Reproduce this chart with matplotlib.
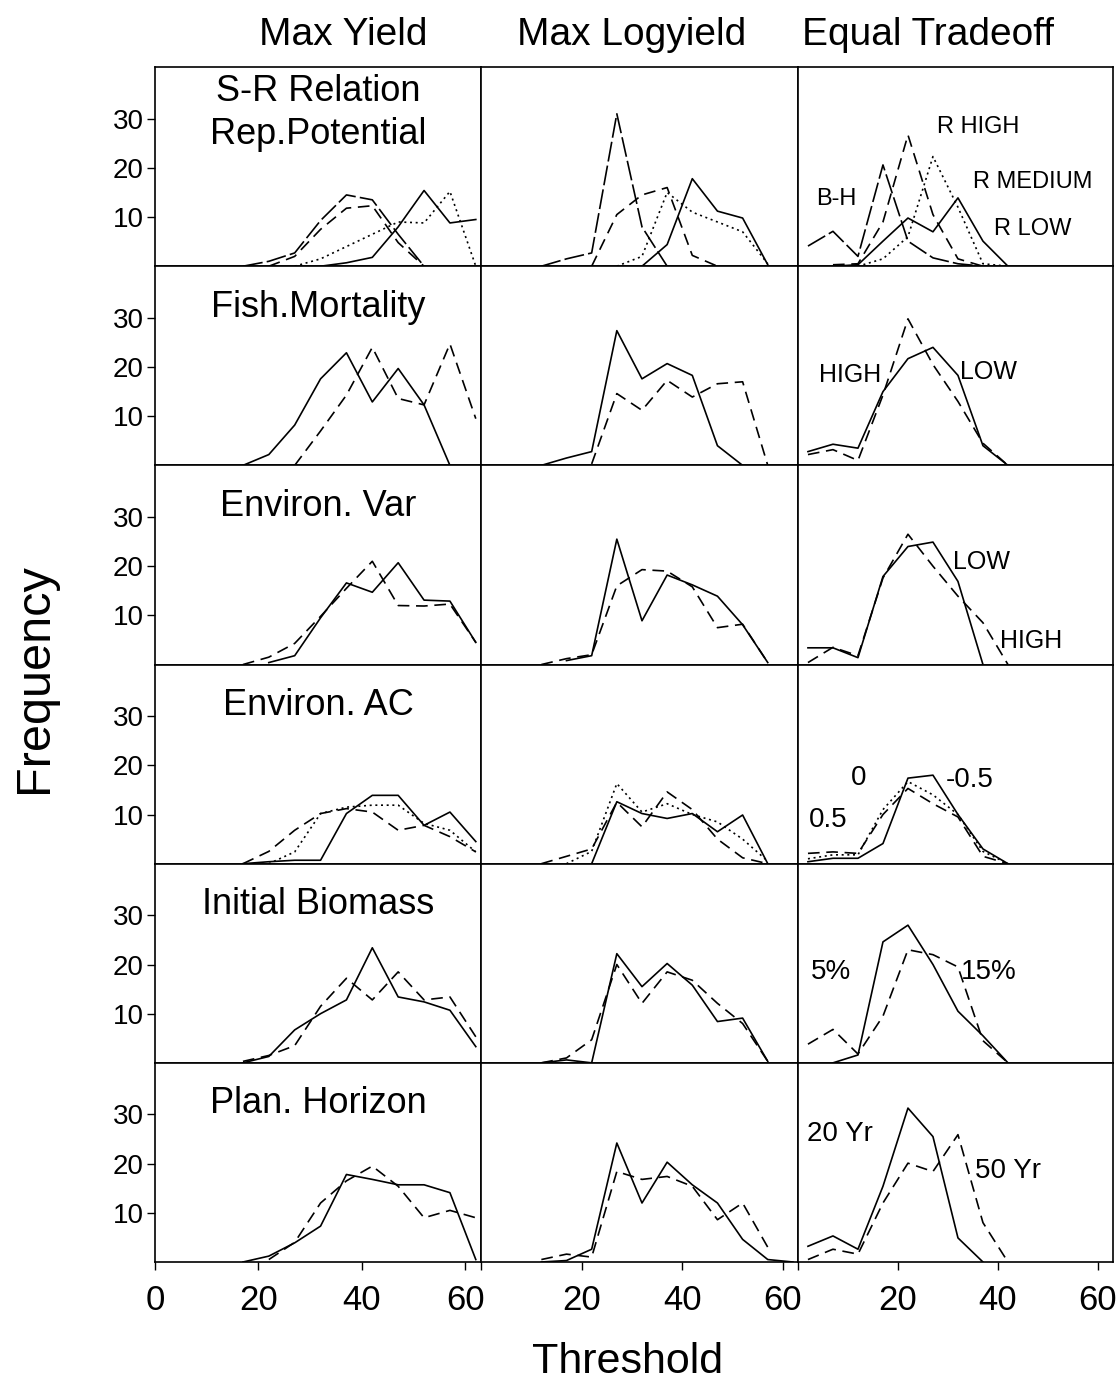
import numpy as np
import matplotlib.pyplot as plt

nan = np.nan

thresholds = [2, 7, 12, 17, 22, 27, 32, 37, 42, 47, 52, 57, 62]

col_titles = ['Max Yield', 'Max Logyield', 'Equal Tradeoff']
row_titles = ['S-R Relation\nRep.Potential', 'Fish.Mortality', 'Environ. Var',
              'Environ. AC', 'Initial Biomass', 'Plan. Horizon']

# S-R relation / reproductive potential
sr_yield = {
    'B-H':      [nan, nan, nan, 0, 1, 2.7, 9.3, 14.5, 13.5, 6.5, 0, nan, nan],
    'R HIGH':   [nan, nan, nan, nan, 0, 2, 7.5, 11.8, 12.3, 4.8, 0, nan, nan],
    'R MEDIUM': [nan, nan, nan, nan, nan, 0, 1.5, 4, 6.5, 9, 8.8, 15.2, 0],
    'R LOW':    [nan, nan, nan, nan, nan, nan, 0, 0.7, 1.8, 8, 15.4, 8.8, 9.5],
}
sr_logyield = {
    'B-H':      [nan, nan, 0, 1.5, 2.7, 31, 8, 0, nan, nan, nan, nan, nan],
    'R HIGH':   [nan, nan, nan, nan, 0, 10.5, 14.5, 16, 2.2, 0, nan, nan, nan],
    'R MEDIUM': [nan, nan, nan, nan, nan, 0, 2, 15, 11, 9, 7, 0.5, nan],
    'R LOW':    [nan, nan, nan, nan, nan, nan, 0, 4.4, 17.8, 11.2, 9.8, 0.3, nan],
}
sr_tradeoff = {
    'B-H':      [4.1, 7.1, 2, 20.6, 5.1, 1.7, 0.5, 0, nan, nan, nan, nan, nan],
    'R HIGH':   [nan, 0.3, 0.5, 9, 26.7, 10.5, 1.5, 0, nan, nan, nan, nan, nan],
    'R MEDIUM': [nan, nan, 0, 1.5, 6, 22.3, 12, 0.5, 0, nan, nan, nan, nan],
    'R LOW':    [nan, 0, 0.3, 5.1, 9.8, 7, 13.9, 5.1, 0, nan, nan, nan, nan],
}

# fishing mortality
fm_yield = {
    'LOW':  [nan, nan, nan, 0, 2.2, 8.2, 17.6, 22.9, 12.9, 19.7, 12.3, 0, nan],
    'HIGH': [nan, nan, nan, nan, nan, 0, 7, 14.3, 24, 13.6, 12.3, 24.7, 9.5],
}
fm_logyield = {
    'LOW':  [nan, nan, 0, 1.5, 2.8, 27.4, 17.6, 20.7, 18.3, 4, 0, nan, nan],
    'HIGH': [nan, nan, nan, nan, 0.3, 14.6, 11.2, 17.3, 13.9, 16.6, 17, 0, nan],
}
fm_tradeoff = {
    'LOW':  [2.8, 4.3, 3.5, 15, 21.7, 24, 18.3, 4, 0, nan, nan, nan, nan],
    'HIGH': [2.2, 3.2, 1, 14.3, 29.8, 20.5, 13, 4.5, 0, nan, nan, nan, nan],
}

# environmental variability
ev_yield = {
    'LOW':  [nan, nan, nan, nan, 0.4, 1.8, 9.5, 16.6, 14.7, 20.7, 13.1, 12.9, 4.5],
    'HIGH': [nan, nan, nan, 0, 1.5, 4.3, 9.8, 15.5, 21, 12, 11.9, 12.3, 4.5],
}
ev_logyield = {
    'LOW':  [nan, nan, nan, 0.8, 1.8, 25.5, 8.9, 18.2, 16.2, 13.9, 8.1, 0.4, nan],
    'HIGH': [nan, nan, 0, 1.2, 2, 16, 19.3, 19, 15.8, 7.5, 8.2, 0.4, nan],
}
ev_tradeoff = {
    'LOW':  [3.4, 3.4, 1.4, 17.9, 24, 24.9, 16.9, 0, nan, nan, nan, nan, nan],
    'HIGH': [0.4, 3.5, 1.8, 17.6, 26.5, 20, 13.9, 8.5, 0, nan, nan, nan, nan],
}

# environmental autocorrelation
ac_yield = {
    '-0.5': [nan, nan, nan, 0, 0.4, 0.7, 0.7, 10.2, 13.9, 13.9, 7.8, 10.5, 4.5],
    '0':    [nan, nan, nan, nan, 0, 2.4, 10.2, 11.5, 11.9, 11.9, 8.2, 6.8, 2.4],
    '0.5':  [nan, nan, nan, 0, 2.5, 6.8, 10.2, 11.2, 10.5, 6.8, 7.8, 5.5, 2.4],
}
ac_logyield = {
    '-0.5': [nan, nan, nan, nan, 0, 12.6, 10.2, 9.2, 10.2, 6.5, 9.9, 0, nan],
    '0':    [nan, nan, nan, 0, 2.5, 16.3, 10.5, 12.2, 10, 8.5, 5, 0.5, nan],
    '0.5':  [nan, nan, 0, 1.5, 3, 12.5, 7.5, 14.6, 11, 5, 1.2, 0, nan],
}
ac_tradeoff = {
    '-0.5': [0.4, 1.1, 1.1, 4.1, 17.4, 18, 10, 3, 0, nan, nan, nan, nan],
    '0':    [1, 1.8, 1.8, 11, 16.7, 14, 10, 2.5, 0, nan, nan, nan, nan],
    '0.5':  [2.1, 2.4, 2.1, 10, 15.3, 12.2, 9.5, 1.5, 0, nan, nan, nan, nan],
}

# initial biomass
ib_yield = {
    '5%':  [nan, nan, nan, 0, 1.3, 6.7, 10, 12.8, 23.4, 13.4, 12.4, 10.7, 3.3],
    '15%': [nan, nan, nan, 0.3, 1.5, 3.5, 11.5, 17.2, 12.8, 18.5, 12.8, 13.4, 5.3],
}
ib_logyield = {
    '5%':  [nan, nan, 0, 0.6, 0, 22.2, 15.5, 20.2, 15.8, 8.4, 9.1, 0.3, nan],
    '15%': [nan, nan, 0, 1, 4.7, 20, 12.1, 18.5, 16.8, 12.1, 8, 0.3, nan],
}
ib_tradeoff = {
    '5%':  [nan, 0, 1.6, 24.6, 28, 20, 10.5, 5.5, 0, nan, nan, nan, nan],
    '15%': [3.8, 6.8, 1.8, 9.5, 23, 22, 19.5, 4.5, 0, nan, nan, nan, nan],
}

# planning horizon
ph_yield = {
    '20 Yr': [nan, nan, nan, 0, 1.2, 3.9, 7.3, 17.8, 16.8, 15.7, 15.7, 14.1, 0.5],
    '50 Yr': [nan, nan, nan, nan, 0.5, 4, 12, 16.5, 19.5, 15.4, 9, 10.5, 9],
}
ph_logyield = {
    '20 Yr': [nan, nan, 0, 0.3, 2.6, 24.2, 12, 20.3, 15.7, 12, 4.6, 0.5, 0],
    '50 Yr': [nan, nan, 0.5, 1.6, 1, 18.4, 16.8, 17.4, 15.4, 8.6, 12, 3, nan],
}
ph_tradeoff = {
    '20 Yr': [3.2, 5.3, 2.6, 15.4, 31.3, 25.5, 4.9, 0, nan, nan, nan, nan, nan],
    '50 Yr': [0.5, 2.6, 1.6, 12, 20.1, 18.4, 25.9, 8, 0, nan, nan, nan, nan],
}

panels = [
    [sr_yield, sr_logyield, sr_tradeoff],
    [fm_yield, fm_logyield, fm_tradeoff],
    [ev_yield, ev_logyield, ev_tradeoff],
    [ac_yield, ac_logyield, ac_tradeoff],
    [ib_yield, ib_logyield, ib_tradeoff],
    [ph_yield, ph_logyield, ph_tradeoff],
]

solid = '-'
dashed = (0, (7, 4))
longdash = (0, (12, 2.5))
dotted = (0, (1.2, 2.2))
line_styles = {
    'B-H': longdash, 'R HIGH': dashed, 'R MEDIUM': dotted, 'R LOW': solid,
    'LOW': solid, 'HIGH': dashed,
    '-0.5': solid, '0': dotted, '0.5': dashed,
    '5%': solid, '15%': dashed,
    '20 Yr': solid, '50 Yr': dashed,
}

# curve names written in the Equal Tradeoff column (threshold, frequency)
curve_notes = [
    [('R HIGH', 36, 28.4, 17), ('R MEDIUM', 47, 17.2, 17), ('R LOW', 47, 7.5, 17), ('B-H', 7.6, 13.6, 17)],
    [('HIGH', 10.4, 18.4, 18), ('LOW', 38.2, 19, 18)],
    [('LOW', 36.7, 20.8, 18), ('HIGH', 46.7, 4.8, 18)],
    [('0.5', 6, 8.9, 20), ('0', 12.2, 17.4, 20), ('-0.5', 34.3, 17, 20)],
    [('5%', 6.7, 18.4, 20), ('15%', 38.2, 18.4, 20)],
    [('20 Yr', 8.4, 26, 20), ('50 Yr', 42, 18.6, 20)],
]

plt.rcParams['font.family'] = ['Liberation Sans', 'DejaVu Sans']

fig = plt.figure(figsize=(11.19, 13.8), dpi=100)
axes = fig.subplots(6, 3, gridspec_kw=dict(hspace=0, wspace=0,
                                           width_ratios=[326, 317, 315]))
fig.subplots_adjust(left=0.1385, right=0.9946, top=0.9514, bottom=0.0855)

for r in range(6):
    for c in range(3):
        ax = axes[r][c]
        for name, vals in panels[r][c].items():
            ax.plot(thresholds, vals, color='black', lw=1.2,
                    linestyle=line_styles[name])
        ax.set_xlim(0, 63)
        ax.set_ylim(0, 40.5)
        for sp in ax.spines.values():
            sp.set_linewidth(1.2)
        ax.set_yticks([10, 20, 30])
        ax.set_xticks([0, 20, 40, 60])
        ax.tick_params(direction='out', length=6, width=1, colors='black')
        if c == 0:
            ax.tick_params(axis='y', labelsize=20, pad=2)
        else:
            ax.tick_params(axis='y', left=False, labelleft=False)
        if r == 5:
            ax.tick_params(axis='x', labelsize=25, pad=10)
            if c > 0:
                ax.set_xticklabels(['', '20', '40', '60'])
        else:
            ax.tick_params(axis='x', bottom=False, labelbottom=False)
        if c == 2:
            for txt, tx, ty, fs in curve_notes[r]:
                ax.text(tx, ty, txt, fontsize=fs, ha='center', va='center')
    ty = 0.77 if r == 0 else 0.795
    axes[r][0].text(0.5, ty, row_titles[r], transform=axes[r][0].transAxes,
                    fontsize=26, ha='center', va='center', linespacing=1.3)

fig.text(0.3065, 0.9746, col_titles[0], fontsize=28, ha='center', va='center')
fig.text(0.5648, 0.9746, col_titles[1], fontsize=28, ha='center', va='center')
fig.text(0.8290, 0.9746, col_titles[2], fontsize=28, ha='center', va='center')
fig.text(0.031, 0.509, 'Frequency', fontsize=35, rotation=90, ha='center', va='center')
fig.text(0.561, 0.013, 'Threshold', fontsize=31, ha='center', va='center')

fig.savefig('out.png', dpi=100)
